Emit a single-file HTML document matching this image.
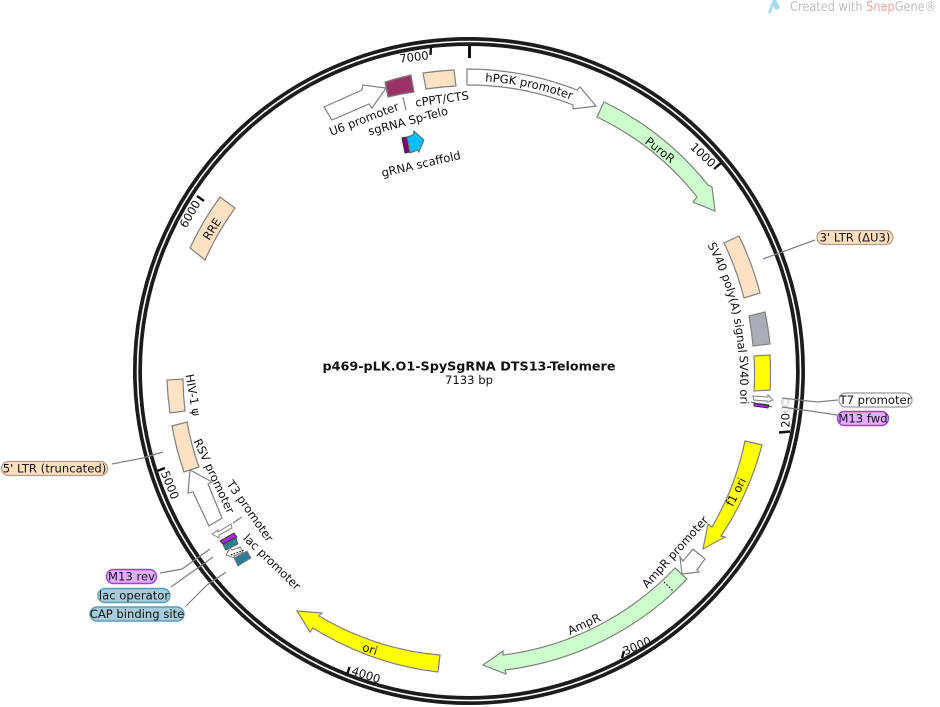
<!DOCTYPE html>
<html><head><meta charset="utf-8"><style>
html,body{margin:0;padding:0;background:#fff;width:940px;height:707px;overflow:hidden}
svg{display:block}
text{font-family:"DejaVu Sans","Liberation Sans",sans-serif;font-size:11.6px;fill:#111}
.c{text-anchor:middle;dominant-baseline:central}
.f{stroke:#808080;stroke-width:1.2;stroke-linejoin:miter}
.l{fill:none;stroke:#808080;stroke-width:1.2}
.t{stroke:#111;stroke-width:2.4}
</style></head><body>
<svg width="940" height="707" viewBox="0 0 940 707" xmlns="http://www.w3.org/2000/svg">
<defs>
<path id="hp" d="M469,81 A290,290 0 0 1 655,149"/>
<path id="sv" d="M703,237 A270,270 0 0 1 735,417.5"/>
</defs>
<!-- logo -->
<path d="M768,13 L773,0 L776,0 L780,8 L776,10 L773,6 L771,13 Z" fill="#9fdcf0"/>
<text x="790" y="11" textLength="146" lengthAdjust="spacingAndGlyphs" style="font-size:13px;fill:#bdbdbd">Created with <tspan fill="#eba79d">Snap</tspan>Gene®</text>
<!-- ring -->
<ellipse cx="469" cy="371" rx="331.5" ry="329.5" fill="none" stroke="#1c1c1c" stroke-width="9"/>
<ellipse cx="469" cy="371" rx="331.5" ry="329.5" fill="none" stroke="#fff" stroke-width="1.6"/>
<!-- ticks -->
<line x1="469.5" y1="44" x2="469.5" y2="58" stroke="#111" stroke-width="3"/>
<line class="t" x1="431" y1="46" x2="430.5" y2="55"/>
<line class="t" x1="721" y1="163" x2="714" y2="169"/>
<line class="t" x1="790" y1="431.5" x2="779" y2="432.5"/>
<line class="t" x1="622" y1="658" x2="624" y2="651"/>
<line class="t" x1="347" y1="675" x2="349.5" y2="667"/>
<line class="t" x1="157" y1="471" x2="165" y2="468"/>
<line class="t" x1="197" y1="196" x2="204" y2="201"/>
<!-- tick labels -->
<text class="c" transform="translate(414,57) rotate(-7)">7000</text>
<text class="c" transform="translate(703,155) rotate(43)">1000</text>
<text class="c" transform="translate(785.5,413) rotate(-90)">2000</text>
<rect x="779" y="398" width="14" height="14" fill="#fff" opacity=".8"/>
<rect x="783" y="399" width="5" height="7" fill="#fff" stroke="#ccc" stroke-width=".8"/>
<text class="c" transform="translate(637,646) rotate(-23)">3000</text>
<text class="c" transform="translate(366,675) rotate(18)">4000</text>
<text class="c" transform="translate(170,485) rotate(68)">5000</text>
<text class="c" transform="translate(190,214) rotate(-60)">6000</text>
<!-- leaders -->
<polyline class="l" points="815,240 763,259"/>
<polyline class="l" points="838,400 817,402 782,398"/>
<polyline class="l" points="837,415 817,412 782,407"/>
<polyline class="l" points="112,464 143,458 163,452"/>
<polyline class="l" points="160,573 182,569 210,549"/>
<polyline class="l" points="171,587 213,557"/>
<polyline class="l" points="186,606 207,585 226,572"/>
<line class="l" x1="403" y1="97" x2="406" y2="110"/>
<line class="l" x1="233" y1="523" x2="242" y2="517"/>
<!-- features -->
<path class="f" fill="#fff" d="M467,69 A302,302 0 0 1 577,90 L580,87 L596,106 L573,109 L573,105 A285,285 0 0 0 467,85 Z"/>
<path class="f" fill="#ccffcc" d="M604,102 A301,301 0 0 1 708,185 L712,187 L715,211 L693,202 L697,197 A284,284 0 0 0 597,117 Z"/>
<path class="f" fill="#ffff00" d="M745,441 L762,445 A302,302 0 0 1 721,536 L725,537 L703,549 L708,524 L712,527 A285,285 0 0 0 745,441 Z"/>
<path class="f" fill="#ccffcc" d="M675,568 L687,579 A301,301 0 0 1 505,670 L506,674 L483,665 L503,651 L503,655 A285,285 0 0 0 675,568 Z"/>
<line x1="664" y1="582" x2="673" y2="591" stroke="#111" stroke-width="1.2" stroke-dasharray="1.5 2"/>
<path class="f" fill="#fff" d="M693,549 L705,559 L697,570 L699,572 L682,574 L680,557 L683,561 Z"/>
<path class="f" fill="#ffff00" d="M440,655 L438,672 A302,302 0 0 1 313,628 L310,632 L297,611 L322,613 L319,616 A286,286 0 0 0 440,655 Z"/>
<path class="f" fill="#ffe2c4" d="M190,248 A304,304 0 0 1 220,197 L235,208 A285,285 0 0 0 205,260 Z"/>
<path class="f" fill="#ffe2c4" d="M739,236 A301,301 0 0 1 760,293 L744,298 A285,285 0 0 0 724,243 Z"/>
<path class="f" fill="#a9adb6" d="M765,312 A302,302 0 0 1 770,344 L753,346 A285,285 0 0 0 749,316 Z"/>
<path class="f" fill="#ffff00" d="M754,356 L770,355 A301,301 0 0 1 770,390 L754,391 A285,285 0 0 0 754,356 Z"/>
<path class="f" fill="#ffe2c4" d="M167,380 A302,302 0 0 0 170,413 L185,411 A285,285 0 0 1 183,379 Z"/>
<path class="f" fill="#ffe2c4" d="M172,426 A302,302 0 0 0 184,472 L199,467 A285,285 0 0 1 187,422 Z"/>
<path class="f" fill="#ffe2c4" d="M423,73 A302,302 0 0 1 454,70 L456,86 A285,285 0 0 0 426,89 Z"/>
<path class="f" fill="#993366" stroke="#444" d="M385,82 A301,301 0 0 1 411,75 L414,92 A284,284 0 0 0 388,97 Z"/>
<path class="f" fill="#fff" d="M324,107 L362,90 L363,85 L386,88 L372,108 L369,104 L332,120 Z"/>
<path d="M402,138 L407,137 L410,152 L405,153 Z" fill="#800080" stroke="#333"/>
<path d="M407,137 L413,135 L414,131 L424,140 L419,152 L418,150 L410,153 Z" fill="#00bfff" stroke="#666"/>
<path class="f" fill="#fff" d="M188,493 L193,492 L209,526 L222,518 L208,484 L212,482 L190,470 Z"/>
<!-- small right -->
<path fill="#fff" stroke="#808080" d="M753,396 L768,397 L768,395 L773,400 L767,402 L767,401 L754,400 Z"/>
<path d="M754,403 L769,405 L768,408 L754,406 Z" fill="#a030e0" stroke="#222" stroke-width=".8"/>
<line x1="751" y1="402" x2="772" y2="407" stroke="#333" stroke-width=".8"/>
<!-- small left -->
<path fill="#fff" stroke="#808080" d="M212,534 L218,530 L218,532 L231,524 L232,528 L219,535 L219,538 Z"/>
<path d="M220,541 L234,533 L237,537 L223,544 Z" fill="#a030e0" stroke="#222" stroke-width=".8"/>
<path d="M223,545 L236,538 L238,544 L226,550 Z" fill="#2e7f96" stroke="#555" stroke-width=".8"/>
<path fill="#fff" stroke="#808080" d="M226,555 L230,548 L232,550 L240,547 L243,552 L234,556 L235,558 Z"/>
<line x1="231" y1="555" x2="244" y2="550" stroke="#111" stroke-width="1.2" stroke-dasharray="1.5 1.5"/>
<path d="M234,558 L247,551 L251,558 L238,566 Z" fill="#2e7f96" stroke="#777" stroke-width=".8"/>
<!-- feature labels -->
<text><textPath href="#hp" startOffset="16">hPGK promoter</textPath></text>
<text><textPath href="#sv" startOffset="9">SV40 poly(A) signal</textPath></text>
<text class="c" transform="translate(660,150) rotate(38)">PuroR</text>
<text class="c" transform="translate(736,492) rotate(-63)">f1 ori</text>
<text class="c" transform="translate(675,552) rotate(-48)">AmpR promoter</text>
<text class="c" transform="translate(584,624) rotate(-25)">AmpR</text>
<text class="c" transform="translate(370,649) rotate(17)">ori</text>
<text class="c" transform="translate(212,229) rotate(-57)">RRE</text>
<text class="c" transform="translate(744,380) rotate(89)">SV40 ori</text>
<text class="c" transform="translate(193,395) rotate(80)">HIV-1 ψ</text>
<text class="c" transform="translate(214,476) rotate(65)">RSV promoter</text>
<text class="c" transform="translate(250,511) rotate(55)">T3 promoter</text>
<text class="c" transform="translate(272,562) rotate(44)">lac promoter</text>
<text class="c" transform="translate(364,119) rotate(-21)">U6 promoter</text>
<text class="c" transform="translate(408,121) rotate(-15)">sgRNA Sp-Telo</text>
<text class="c" transform="translate(442,99) rotate(-8)">cPPT/CTS</text>
<text class="c" transform="translate(421,164) rotate(-13)">gRNA scaffold</text>
<!-- pills -->
<rect x="817" y="230.5" width="76" height="14" rx="7" fill="#ffdfc0" stroke="#b59c84" stroke-width="1.2"/>
<text class="c" x="855" y="237.5">3' LTR (ΔU3)</text>
<rect x="839" y="393" width="73" height="14" rx="7" fill="#fff" stroke="#999" stroke-width="1.2"/>
<text class="c" x="875.5" y="400">T7 promoter</text>
<rect x="837.5" y="411.5" width="51" height="14" rx="7" fill="#e2aeff" stroke="#a040e0" stroke-width="1.4"/>
<text class="c" x="863" y="418.5">M13 fwd</text>
<rect x="106.5" y="569.5" width="50" height="14" rx="7" fill="#e2aeff" stroke="#a040e0" stroke-width="1.4"/>
<text class="c" x="131.5" y="576.5">M13 rev</text>
<rect x="98" y="588.5" width="72" height="14" rx="7" fill="#a5ccd8" stroke="#5a9eb4" stroke-width="1.4"/>
<text class="c" x="134" y="595.5">lac operator</text>
<rect x="90" y="607" width="94" height="14" rx="7" fill="#a5ccd8" stroke="#5a9eb4" stroke-width="1.4"/>
<text class="c" x="137" y="614">CAP binding site</text>
<rect x="1.5" y="461.5" width="106" height="14" rx="7" fill="#ffdfc0" stroke="#b59c84" stroke-width="1.2"/>
<text class="c" x="54.5" y="468.5">5' LTR (truncated)</text>
<!-- title -->
<text class="c" x="469" y="366" textLength="293" lengthAdjust="spacingAndGlyphs" style="font-weight:bold;font-size:12.5px">p469-pLK.O1-SpySgRNA DTS13-Telomere</text>
<text class="c" x="469" y="380">7133 bp</text>
</svg>
</body></html>
